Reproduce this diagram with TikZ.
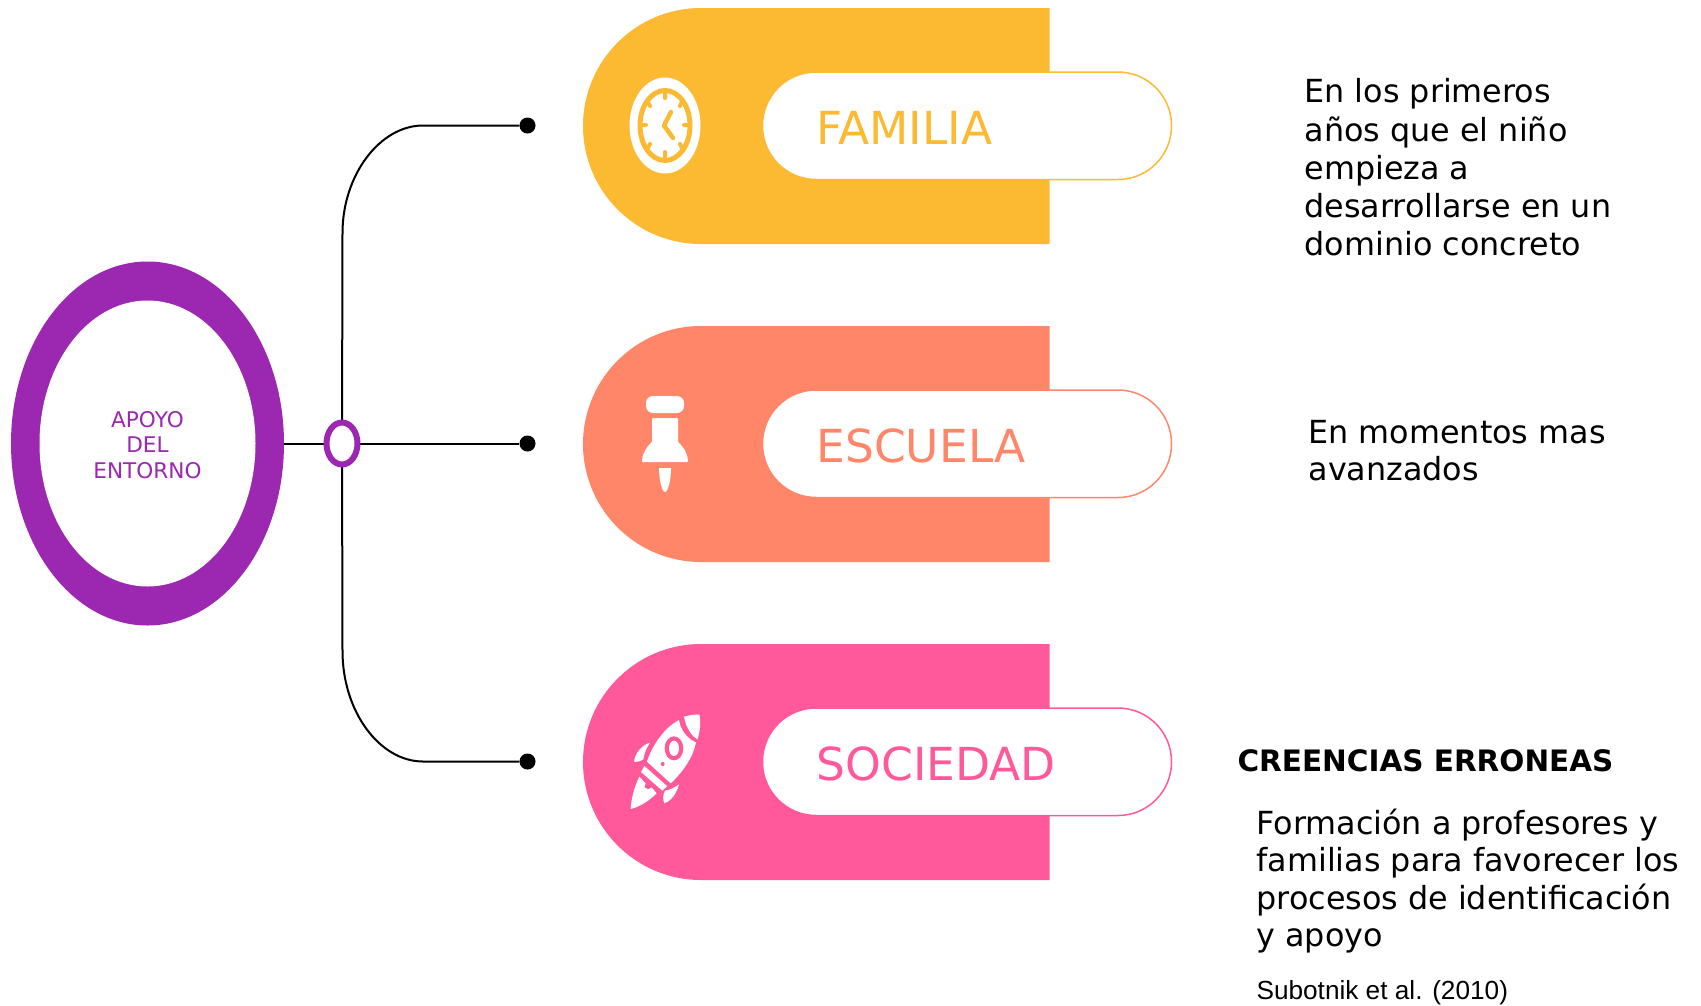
\documentclass[tikz,border=0pt]{standalone}
\usepackage{fontspec}
\setmainfont{DejaVu Sans}
\newfontfamily\citefont{Liberation Sans}
\usetikzlibrary{shapes.geometric}
\definecolor{familiacol}{HTML}{FCB932}
\definecolor{escuelacol}{HTML}{FF8669}
\definecolor{sociedadcol}{HTML}{FF589B}
\definecolor{apoyocol}{HTML}{9C27B0}
\tikzset{
  dotend/.style={circle,fill=black,inner sep=0pt,minimum size=16pt},
  linkline/.style={line width=2pt,black},
  cardshape/.style={rounded corners=118pt},
  pillshape/.style={fill=white,line width=1.5pt,rounded corners=53.5pt},
  cardlabel/.style={anchor=west,font=\fontsize{45.5}{50}\selectfont},
  sidetext/.style={anchor=west,align=left,font=\fontsize{31.8}{37.3}\selectfont},
  pinkpart/.style={fill=sociedadcol},
  whitepart/.style={fill=white}
}
\begin{document}
\begin{tikzpicture}[x=1pt,y=-1pt]
    \useasboundingbox (0,0) rectangle (1701,1005);

    \fill[familiacol] (1049.5,8) [cardshape] -- (583,8) -- (583,244) [sharp corners] -- (1049.5,244) -- cycle;
    \fill[escuelacol] (1049.5,326) [cardshape] -- (583,326) -- (583,562) [sharp corners] -- (1049.5,562) -- cycle;
    \fill[sociedadcol] (1049.5,644) [cardshape] -- (583,644) -- (583,880) [sharp corners] -- (1049.5,880) -- cycle;

    \draw[pillshape,draw=familiacol] (762.5,72) rectangle (1171.5,179.5);
    \draw[pillshape,draw=escuelacol] (762.5,390) rectangle (1171.5,497.5);
    \draw[pillshape,draw=sociedadcol] (762.5,708) rectangle (1171.5,815.5);

    \node[cardlabel,text=familiacol] (familia) at (813,127.5) {FAMILIA};
    \node[cardlabel,text=escuelacol] (escuela) at (813,445.5) {ESCUELA};
    \node[cardlabel,text=sociedadcol] (sociedad) at (813,763.5) {SOCIEDAD};

    \fill[white] (665,125.5) ellipse[x radius=35.5,y radius=48];
    \draw[familiacol,line width=5pt] (665,125.5) ellipse[x radius=25,y radius=35];
    \draw[familiacol,line width=4pt,line cap=round] (665,93) -- (665,98) (665,157) -- (665,152) (642,125) -- (646,125) (688,125) -- (684,125) (648,102) -- (650,106) (682,102) -- (680,106) (648,148) -- (650,144) (682,148) -- (680,144);
    \draw[familiacol,line width=4.5pt,line cap=round,line join=round] (671,112) -- (664,125.5) -- (673,138);

    \fill[white,rounded corners=7pt] (646,396) rectangle (684,413);
    \fill[white,rounded corners=1pt] (652,418) -- (678,418) -- (678,442) .. controls (684,447) and (688,455) .. (688,462) -- (642,462) .. controls (642,455) and (646,447) .. (652,442) -- cycle;
    \fill[white] (659,468) -- (671,468) .. controls (671,480) and (668,492) .. (665,492) .. controls (662,492) and (659,480) .. (659,468) -- cycle;

    \begin{scope}[shift={(615,700)},x=0.3333pt,y=-0.3333pt]
      \fill[whitepart] (207,50) .. controls (225,45) and (245,42) .. (253,44) .. controls (258,60) and (256,90) .. (248,118) .. controls (230,110) and (212,80) .. (207,50) -- cycle;
      \fill[whitepart] (192,60) .. controls (145,85) and (110,140) .. (96,185) -- (167,250) .. controls (205,215) and (235,170) .. (243,127) .. controls (215,115) and (197,90) .. (192,60) -- cycle;
      \fill[pinkpart] (177,145) ellipse[x radius=28,y radius=36];
      \fill[whitepart] (177,145) ellipse[x radius=15,y radius=23];
      \fill[pinkpart] (143,192) circle[radius=6];
      \fill[whitepart] (88,198) -- (156,258) -- (142,272) -- (78,216) -- cycle;
      \fill[whitepart] (73,230) -- (92,250) -- (88,262) -- (100,268) -- (110,262) -- (125,280) .. controls (100,305) and (70,322) .. (47,327) .. controls (48,300) and (58,260) .. (73,230) -- cycle;
      \fill[whitepart] (105,128) .. controls (80,135) and (60,160) .. (57,185) .. controls (65,187) and (78,183) .. (85,178) .. controls (88,160) and (95,142) .. (105,128) -- cycle;
      \fill[whitepart] (192,253) .. controls (185,280) and (170,302) .. (148,310) .. controls (143,298) and (143,285) .. (150,272) .. controls (165,270) and (180,262) .. (192,253) -- cycle;
    \end{scope}

    \node[ellipse,fill=apoyocol,minimum width=273pt,minimum height=364pt,inner sep=0pt] (apoyo) at (147.5,443.5) {};
    \node[ellipse,fill=white,minimum width=216pt,minimum height=286pt,inner sep=0pt] (apoyoin) at (147.5,443.5) {};
    \node[align=center,text=apoyocol,font=\fontsize{21.6}{25.5}\selectfont] (apoyotxt) at (147.5,445) {APOYO\\DEL\\ENTORNO};

    \node[dotend] (dotfamilia) at (527.5,125.5) {};
    \node[dotend] (dotescuela) at (527.5,443.5) {};
    \node[dotend] (dotsociedad) at (527.5,761.5) {};
    \coordinate (curvefamilia) at (342.5,233);
    \coordinate (curvesociedad) at (342.5,651);
    \coordinate (hubcenter) at (342,443.5);
    \coordinate (bendfamilia) at (423,125.5);
    \coordinate (bendsociedad) at (423,761.5);

    \draw[linkline] (apoyo.east) -- (dotescuela);
    \draw[linkline] (hubcenter) -- (curvefamilia) .. controls (342.5,175) and (380,125.5) .. (bendfamilia) -- (dotfamilia);
    \draw[linkline] (hubcenter) -- (curvesociedad) .. controls (342.5,712) and (380,761.5) .. (bendsociedad) -- (dotsociedad);
    \node[ellipse,draw=apoyocol,line width=6pt,fill=white,minimum width=31pt,minimum height=42pt,inner sep=0pt] (hub) at (hubcenter) {};

    \node[sidetext,font=\fontsize{31.8}{38.2}\selectfont] (textfamilia) at (1301,167.5) {En los primeros\\años que el niño\\empieza a\\desarrollarse en un\\dominio concreto};
    \node[sidetext] (textescuela) at (1305,450.5) {En momentos mas\\avanzados};
    \node[anchor=west,font=\fontsize{29.5}{34}\selectfont\bfseries] (creencias) at (1234,761) {CREENCIAS ERRONEAS};
    \node[sidetext] (textsociedad) at (1253,881) {Formación a profesores y\\familias para favorecer los\\procesos de identificación\\y apoyo};
    \node[anchor=west,font=\fontsize{26.2}{30}\selectfont\citefont] (cita) at (1253,993) {Subotnik et al. (2010)};
\end{tikzpicture}
\end{document}
